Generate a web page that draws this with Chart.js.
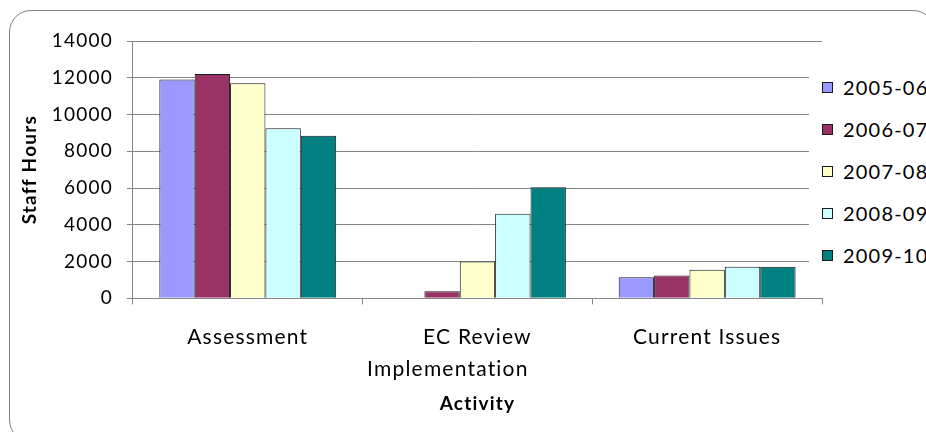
<!DOCTYPE html>
<html>
<head>
<meta charset="utf-8">
<script src="https://cdn.jsdelivr.net/npm/chart.js@4/dist/chart.umd.min.js"></script>
<style>
  html, body { margin: 0; padding: 0; background: #fff; overflow: hidden; width: 926px; height: 432px; }
  #frame { position: absolute; left: 9px; top: 10px; width: 926px; height: 432px; box-sizing: border-box;
           border: 1.5px solid #808080; border-radius: 22px; }
  #chartBox { position: absolute; left: 0; top: 0; width: 926px; height: 432px; }
  #legend { position: absolute; left: 809px; top: 66px; width: 140px; background: #fff; margin: 0; padding: 0;
            list-style: none; font-family: Lato, sans-serif; font-size: 20px; letter-spacing: 1.2px; color: #000; }
  #legend li { height: 42px; display: flex; align-items: center; white-space: nowrap; }
  #legend .swatch { display: inline-block; width: 11px; height: 11px; box-sizing: border-box; border: 1px solid #1a1a1a;
                    margin-left: 13px; margin-right: 10px; flex: none; }
</style>
</head>
<body>
<div id="frame"></div>
<div id="chartBox"><canvas id="chart" width="926" height="432"></canvas></div>
<ul id="legend"></ul>
<script>
// Staff hours per activity, by financial year
// (the two-line label keeps its lines flush on the right, hence the trailing spaces)
const categories = ['Assessment', ['EC Review', 'Implementation         '], 'Current Issues'];
const years = ['2005-06', '2006-07', '2007-08', '2008-09', '2009-10'];
const hours2005_06 = [11900, null, 1150];
const hours2006_07 = [12200, 380, 1250];
const hours2007_08 = [11700, 2000, 1550];
const hours2008_09 = [9250, 4600, 1720];
const hours2009_10 = [8850, 6050, 1720];
const yearColours = ['#9999FF', '#993366', '#FFFFCC', '#CCFFFF', '#008080'];
const yTickStep = 2000;
const yMax = 14000;

const series = [hours2005_06, hours2006_07, hours2007_08, hours2008_09, hours2009_10];

const FONT = 'Lato, sans-serif';
const GRID = '#868686';

// Canvas text in this chart is slightly tracked out
const trackedText = {
  id: 'trackedText',
  beforeUpdate(chart) { chart.ctx.letterSpacing = '1.2px'; },
  beforeDraw(chart) { chart.ctx.letterSpacing = '1.2px'; }
};

// Legend rendered as HTML next to the plot, built from the datasets
const htmlLegend = {
  id: 'htmlLegend',
  afterUpdate(chart) {
    const ul = document.getElementById('legend');
    ul.innerHTML = '';
    chart.data.datasets.forEach(ds => {
      const li = document.createElement('li');
      const sw = document.createElement('span');
      sw.className = 'swatch';
      sw.style.background = ds.backgroundColor;
      li.appendChild(sw);
      li.appendChild(document.createTextNode(ds.label));
      ul.appendChild(li);
    });
  }
};

new Chart(document.getElementById('chart'), {
  type: 'bar',
  data: {
    labels: categories,
    datasets: years.map((y, i) => ({
      label: y,
      data: series[i],
      backgroundColor: yearColours[i],
      borderColor: '#1a1a1a',
      borderWidth: 1,
      barPercentage: 1,
      categoryPercentage: 0.77
    }))
  },
  options: {
    responsive: false,
    animation: false,
    devicePixelRatio: 1,
    layout: { padding: { left: 18, right: 104, top: 41, bottom: 17 } },
    plugins: {
      legend: { display: false },
      tooltip: { enabled: false }
    },
    scales: {
      x: {
        offset: true,
        grid: { drawOnChartArea: false, offset: true, tickLength: 6, color: GRID, lineWidth: 1 },
        border: { color: GRID, width: 1 },
        ticks: { color: '#000', font: { family: FONT, size: 21, lineHeight: 1.52 }, padding: 17, maxRotation: 0, autoSkip: false },
        title: { display: true, text: 'Activity', color: '#000', font: { family: FONT, size: 19, weight: 'bold' }, padding: { top: -10, bottom: 0 } }
      },
      y: {
        min: 0,
        max: yMax,
        grid: { color: GRID, tickLength: 6, lineWidth: 1 },
        border: { color: GRID, width: 1 },
        ticks: { stepSize: yTickStep, color: '#000', font: { family: FONT, size: 19 }, padding: 14, callback: v => String(v) },
        title: { display: true, text: 'Staff Hours', color: '#000', font: { family: FONT, size: 19, weight: 'bold' }, padding: { top: 0, bottom: -3 } }
      }
    }
  },
  plugins: [trackedText, htmlLegend]
});
</script>
</body>
</html>
